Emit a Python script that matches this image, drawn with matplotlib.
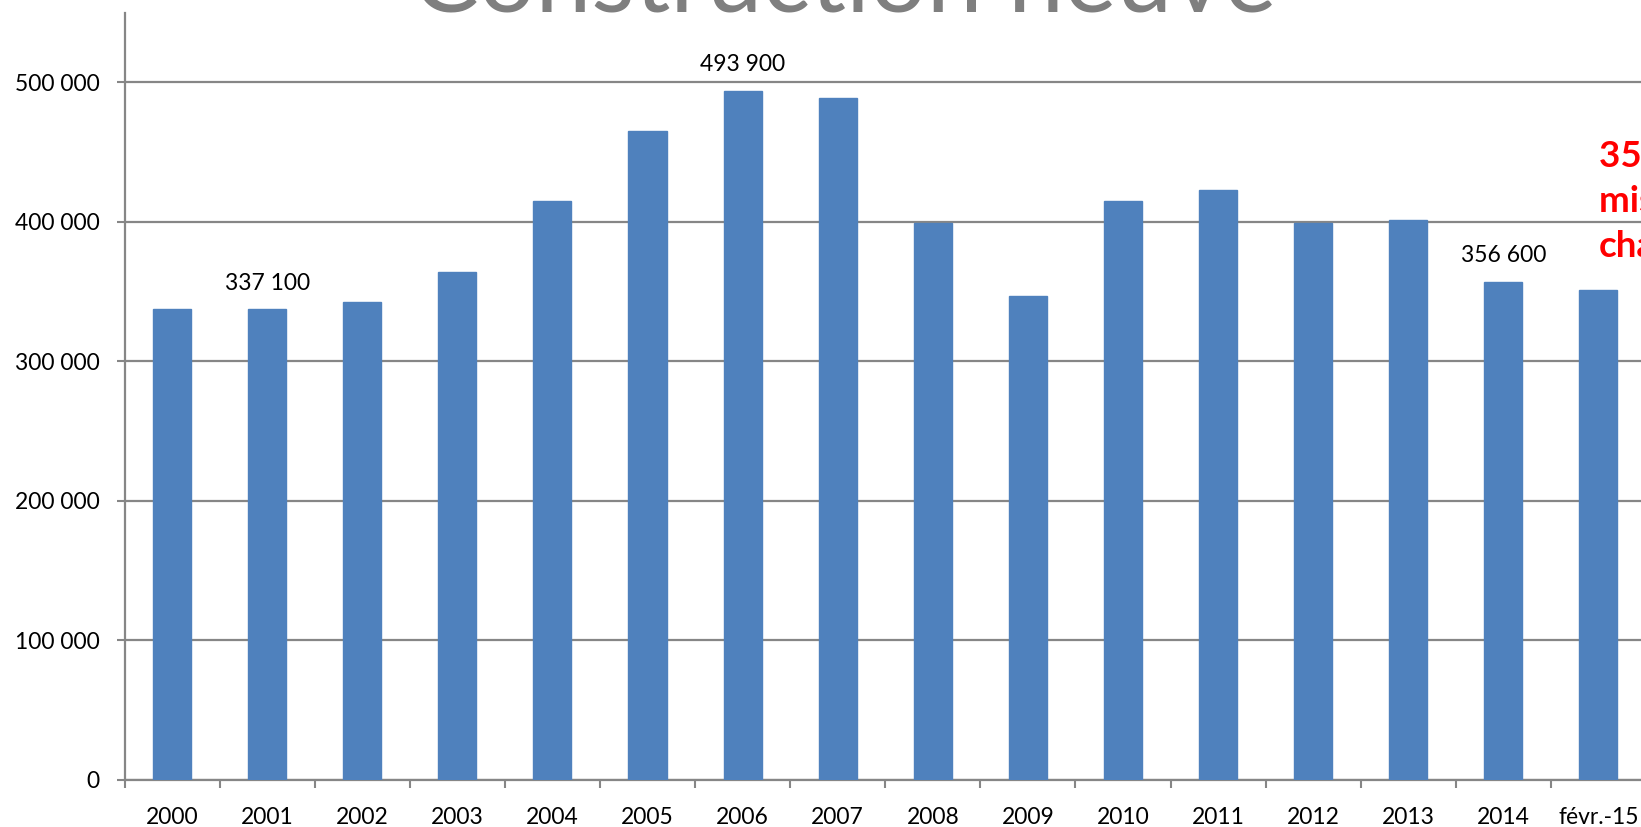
import numpy as np
import matplotlib
matplotlib.use("Agg")
import matplotlib.pyplot as plt

# data
categories = ["2000", "2001", "2002", "2003", "2004", "2005", "2006", "2007",
              "2008", "2009", "2010", "2011", "2012", "2013", "2014", "févr.-15"]
values = [337400, 337100, 342200, 363900, 414600, 465000, 493900, 488900,
          399100, 346700, 415100, 422900, 398900, 401000, 356600, 351000]
labelled = {"2001": "337 100", "2006": "493 900", "2014": "356 600"}
yticks = [0, 100000, 200000, 300000, 400000, 500000]
ytick_labels = ["0", "100 000", "200 000", "300 000", "400 000", "500 000"]
title = "Construction neuve"
note_lines = ["351 000", "mises en", "chantier"]

plt.rcParams['font.family'] = ['Lato', 'DejaVu Sans']
W, H = 1641, 827
fig = plt.figure(figsize=(W / 100, H / 100), dpi=100)
ax = fig.add_axes([124.5 / W, (H - 779.7) / H, (1646 - 124.5) / W, (779.7 - 12.5) / H])

x = np.arange(len(categories))
ax.bar(x, values, width=0.4, color="#4F81BD", edgecolor="#4F81BD", zorder=3)

ax.set_xlim(-0.5, len(categories) - 0.5)
ax.set_ylim(0, 550000)

grey = "#868686"
ax.set_yticks(yticks)
ax.set_yticklabels(ytick_labels, fontsize=16.5)
ax.yaxis.grid(True, color=grey, linewidth=1.6, zorder=0)
ax.tick_params(axis="y", length=6, width=1.5, color=grey, pad=12)

# ticks at category boundaries, labels at centres
ax.set_xticks(np.arange(-0.5, len(categories) - 0.5, 1))
ax.set_xticklabels([])
ax.set_xticks(x, minor=True)
ax.set_xticklabels(categories, minor=True, fontsize=16.5)
ax.tick_params(axis="x", which="major", length=6, width=1.5, color=grey)
ax.tick_params(axis="x", which="minor", length=0, pad=20)

for s in ["top", "right"]:
    ax.spines[s].set_visible(False)
for s in ["left", "bottom"]:
    ax.spines[s].set_color(grey)
    ax.spines[s].set_linewidth(1.6)

for i, c in enumerate(categories):
    if c in labelled:
        ax.annotate(labelled[c], (i, values[i]), xytext=(0, 19), textcoords="offset points",
                    ha="center", va="center", fontsize=16.5)

fig.text(844 / W, 1 - 12 / H, title, ha="center", va="baseline",
         fontsize=72, color="#7F7F7F")

for k, line in enumerate(note_lines):
    fig.text(1599 / W, 1 - (166.7 + 45 * k) / H, line, ha="left", va="baseline",
             fontsize=26.5, fontweight="bold", color="#FF0000")

fig.savefig("out.png", dpi=100)
